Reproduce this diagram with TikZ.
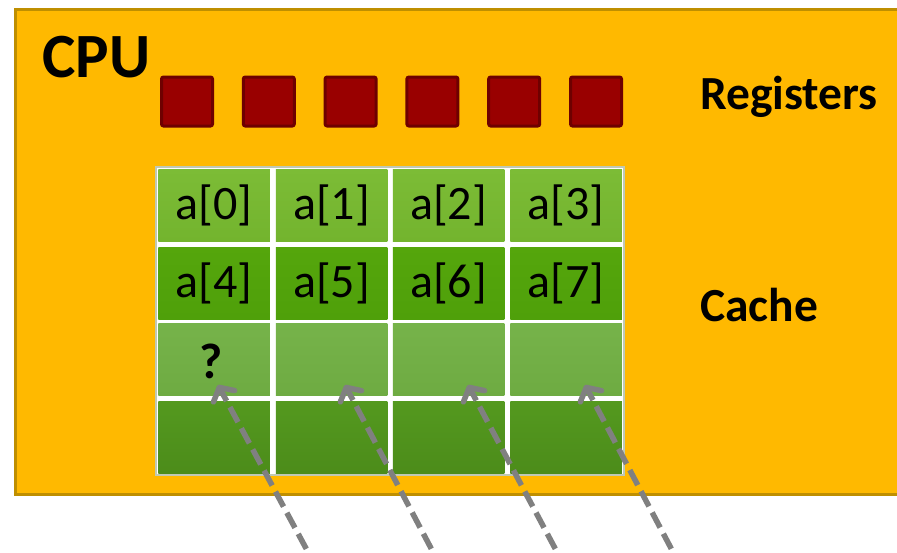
\documentclass[tikz,border=0pt]{standalone}
\usepackage{fontspec}
\setmainfont{Carlito}
\usetikzlibrary{arrows.meta}
\definecolor{cpufill}{HTML}{FFB900}
\definecolor{cpuedge}{HTML}{BF8F00}
\definecolor{regfill}{HTML}{990000}
\definecolor{regedge}{HTML}{6E0000}
\definecolor{gridedge}{HTML}{BFC9B5}
\definecolor{rowAt}{HTML}{7CBC36}
\definecolor{rowAb}{HTML}{73B42E}
\definecolor{rowBt}{HTML}{55A60C}
\definecolor{rowBb}{HTML}{4FA00A}
\definecolor{rowCt}{HTML}{76B34A}
\definecolor{rowCb}{HTML}{6EAB42}
\definecolor{rowDt}{HTML}{54991F}
\definecolor{rowDb}{HTML}{4C8C1A}
\definecolor{arrowgrey}{HTML}{808080}
\begin{document}
\begin{tikzpicture}[x=1pt,y=-1pt,
  regbox/.style={draw=regedge, fill=regfill, line width=3pt, rounded corners=2pt,
    minimum width=51pt, minimum height=49pt, inner sep=0pt},
  cell/.style={minimum width=111.5pt, minimum height=72pt, inner sep=0pt, outer sep=0pt,
    font=\fontsize{48}{52}\selectfont},
  rowA/.style={cell, top color=rowAt, bottom color=rowAb},
  rowB/.style={cell, top color=rowBt, bottom color=rowBb},
  rowC/.style={cell, top color=rowCt, bottom color=rowCb},
  rowD/.style={cell, top color=rowDt, bottom color=rowDb},
  bigbold/.style={font=\fontsize{63}{66}\selectfont\bfseries, inner sep=0pt, anchor=base west},
  label/.style={font=\fontsize{47.5}{50}\selectfont\bfseries, inner sep=0pt, anchor=base west},
  fetch/.style={draw=arrowgrey, line width=5.5pt, dash pattern=on 17pt off 7pt,
    -{Straight Barb[length=10pt, width=24pt, round]}}
]
\useasboundingbox (0,0) rectangle (897,552);
\clip (0,0) rectangle (897,552);
\fill[white] (0,0) rectangle (897,552);
% CPU box
\draw[cpuedge, fill=cpufill, line width=3pt] (15.5,9.5) rectangle (910,494.5);
\node[bigbold] (cpu) at (42,77) {CPU};
% registers
\foreach \i in {0,...,5} {
  \node[regbox] (reg\i) at ({187+81.8*\i},101.5) {};
}
\node[label] (reglabel) at (700,109) {Registers};
% cache grid
\draw[gridedge, fill=white, line width=2pt] (156,167) rectangle (624,475);
\foreach \c/\x in {0/214,1/331.5,2/448.5,3/566} {
  \node[rowA] (cA\c) at (\x,205.5) {};
  \node[rowB] (cB\c) at (\x,283) {};
  \node[rowC] (cC\c) at (\x,359.5) {};
  \node[rowD] (cD\c) at (\x,437.5) {};
}
\node[cell] (t0) at (cA0) {a[0]};
\node[cell] (t1) at (cA1) {a[1]};
\node[cell] (t2) at (cA2) {a[2]};
\node[cell] (t3) at (cA3) {a[3]};
\node[cell] (t4) at (cB0) {a[4]};
\node[cell] (t5) at (cB1) {a[5]};
\node[cell] (t6) at (cB2) {a[6]};
\node[cell] (t7) at (cB3) {a[7]};
\node[font=\fontsize{50}{54}\selectfont\bfseries, inner sep=0pt] (q) at (211,361) {?};
\node[label] (cachelabel) at (700,321) {Cache};
% fetch arrows
\coordinate (s0) at (317.7,570);
\coordinate (s1) at (442.5,570);
\coordinate (s2) at (566.6,570);
\coordinate (s3) at (682.5,570);
\coordinate (e0) at (218,385);
\coordinate (e1) at (345,385);
\coordinate (e2) at (468,385);
\coordinate (e3) at (585,385);
\foreach \k in {0,...,3} {
  \draw[fetch] (s\k) -- (e\k);
}
\end{tikzpicture}
\end{document}
